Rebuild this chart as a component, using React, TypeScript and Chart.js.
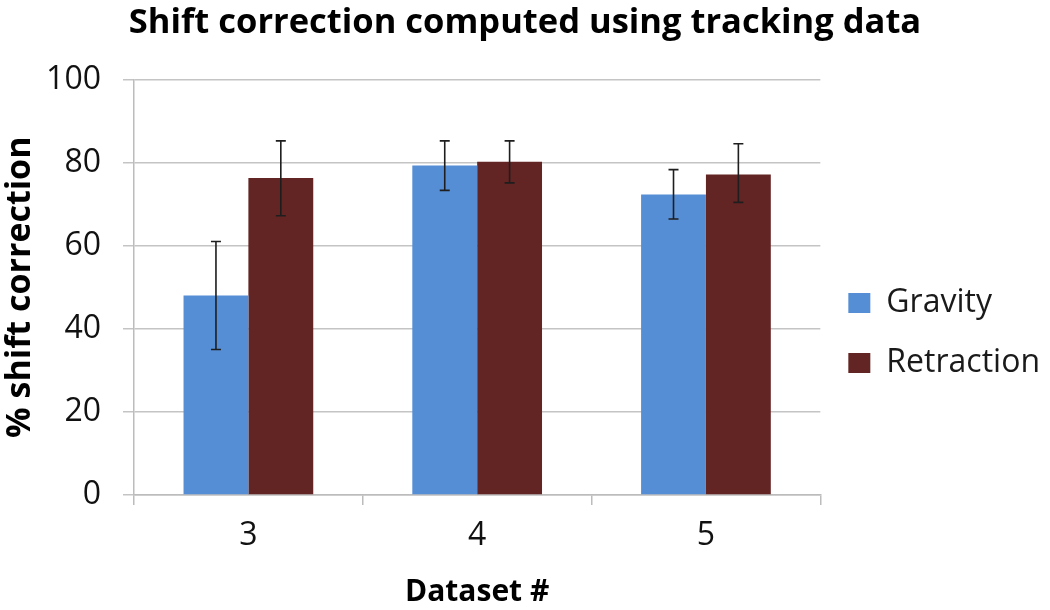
import React, { useEffect, useRef } from "react";
import { Chart, registerables } from "chart.js";

Chart.register(...registerables);

const categories = ["3", "4", "5"];
const seriesNames = ["Gravity", "Retraction"];
const gravity = [48, 79.3, 72.3];
const gravityLow = [35, 73.3, 66.4];
const gravityHigh = [61, 85.2, 78.3];
const retraction = [76.3, 80.2, 77.1];
const retractionLow = [67.2, 75.1, 70.4];
const retractionHigh = [85.2, 85.2, 84.5];
const yMin = 0;
const yMax = 100;
const yStep = 20;

const errorLows = [gravityLow, retractionLow];
const errorHighs = [gravityHigh, retractionHigh];

const errorBarPlugin = {
  id: "errorBars",
  afterDatasetsDraw(chart: any) {
    const ctx = chart.ctx;
    const yScale = chart.scales.y;
    ctx.save();
    ctx.strokeStyle = "#1e1e1e";
    ctx.lineWidth = 1.6;
    chart.data.datasets.forEach((_ds: any, i: number) => {
      const meta = chart.getDatasetMeta(i);
      meta.data.forEach((bar: any, j: number) => {
        const x = bar.x;
        const yl = yScale.getPixelForValue(errorLows[i][j]);
        const yh = yScale.getPixelForValue(errorHighs[i][j]);
        ctx.beginPath();
        ctx.moveTo(x, yl);
        ctx.lineTo(x, yh);
        ctx.moveTo(x - 5, yl);
        ctx.lineTo(x + 5, yl);
        ctx.moveTo(x - 5, yh);
        ctx.lineTo(x + 5, yh);
        ctx.stroke();
      });
    });
    ctx.restore();
  },
};

export default function App() {
  const ref = useRef<HTMLCanvasElement>(null);
  useEffect(() => {
    document.body.style.margin = "0";
    const chart = new Chart(ref.current as HTMLCanvasElement, {
      type: "bar",
      data: {
        labels: categories,
        datasets: [
          {
            label: seriesNames[0],
            data: gravity,
            backgroundColor: "#558ED5",
            barPercentage: 1,
            categoryPercentage: 0.567,
          },
          {
            label: seriesNames[1],
            data: retraction,
            backgroundColor: "#632523",
            barPercentage: 1,
            categoryPercentage: 0.567,
          },
        ],
      },
      options: {
        responsive: false,
        animation: false,
        layout: { padding: { left: 0, right: 0, top: 0, bottom: 0 } },
        plugins: {
          title: {
            display: true,
            text: "Shift correction computed using tracking data",
            color: "#000",
            font: { family: "'Open Sans'", size: 34.5, weight: "bold" },
            padding: { top: 2, bottom: 36 },
          },
          legend: {
            position: "right",
            title: {
              display: true,
              text: " ",
              font: { size: 10 },
              padding: 22,
            },
            labels: {
              color: "#1a1a1a",
              font: { family: "'Open Sans'", size: 32 },
              boxWidth: 22,
              boxHeight: 20,
              padding: 28,
            },
          },
          tooltip: { enabled: false },
        },
        scales: {
          x: {
            afterFit: (scale: any) => {
              scale.height = 115;
            },
            grid: {
              offset: true,
              drawOnChartArea: false,
              drawTicks: true,
              tickLength: 10,
              color: "#bcbcbc",
              lineWidth: 1.5,
            },
            border: { color: "#bcbcbc", width: 1.5 },
            ticks: {
              color: "#111",
              font: { family: "'Open Sans'", size: 32 },
              padding: 12,
            },
            title: {
              display: true,
              text: "Dataset #",
              color: "#000",
              font: { family: "'Open Sans'", size: 30, weight: "bold" },
              padding: { top: 10, bottom: 0 },
            },
          },
          y: {
            min: yMin,
            max: yMax,
            afterFit: (scale: any) => {
              scale.width = 134;
            },
            ticks: {
              stepSize: yStep,
              color: "#111",
              font: { family: "'Open Sans'", size: 32 },
              padding: 22,
            },
            grid: {
              color: "#c4c4c4",
              lineWidth: 1.5,
              tickLength: 11,
            },
            border: { color: "#bcbcbc", width: 1.5 },
            title: {
              display: true,
              text: "% shift correction",
              color: "#000",
              font: { family: "'Open Sans'", size: 34, weight: "bold" },
              padding: { top: 0, bottom: 4 },
            },
          },
        },
      },
      plugins: [errorBarPlugin],
    });
    return () => chart.destroy();
  }, []);
  return (
    <div style={{ position: "absolute", left: 0, top: 0, width: 1050, height: 610, background: "#fff" }}>
      <canvas ref={ref} width={1050} height={610} />
    </div>
  );
}
